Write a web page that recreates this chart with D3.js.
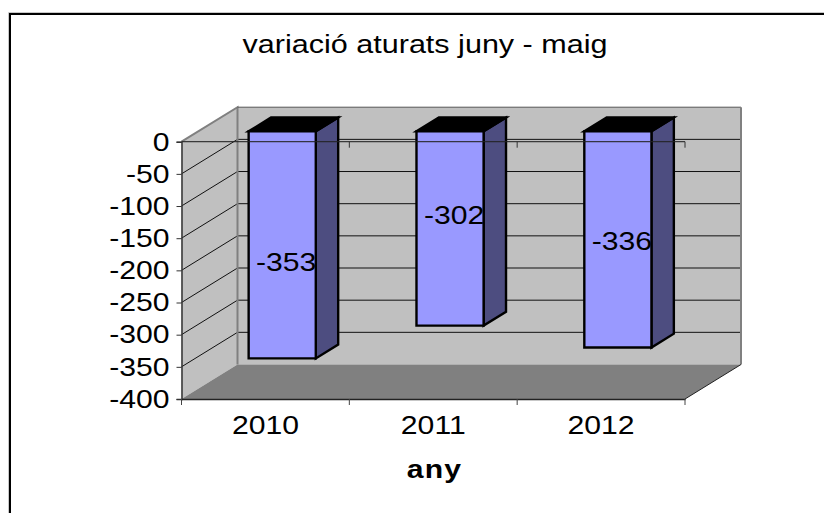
<!DOCTYPE html>
<html>
<head>
<meta charset="utf-8">
<script src="https://cdn.jsdelivr.net/npm/d3@7"></script>
<style>
  html, body { margin: 0; padding: 0; background: #fff; }
  svg { display: block; }
  text { font-family: "Liberation Sans", Arial, sans-serif; fill: #000; }
</style>
</head>
<body>
<div id="chart"></div>
<script>
const years = ["2010", "2011", "2012"];
const values = [-353, -302, -336];
const yTicks = [0, -50, -100, -150, -200, -250, -300, -350, -400];
const gridTicks = [-50, -100, -150, -200, -250, -300, -350];
const chartTitle = "variació aturats juny - maig";
const xTitle = "any";

const w = 824, h = 513;
const svg = d3.select("#chart").append("svg").attr("width", w).attr("height", h);

// the text in the picture is stretched sideways
const fontSize = "26px", stretch = 1.16;

// scales for the front plane of the box
const y = d3.scaleLinear().domain([-400, 0]).range([399, 141.7]);
const x = d3.scaleBand().domain(years).range([181.5, 685]);
const xBar = d3.scaleBand().domain(years).range([181.5, 685]).paddingInner(0.6).paddingOuter(0.3);

// how far the box goes back: d=0 front, d=1 back wall
const depthX = 56, depthY = -34.5;
function px(v, d) { return v + depthX * d; }
function py(v, d) { return v + depthY * d; }
function poly(points) { return points.map(p => p.join(",")).join(" "); }

// outer frame, only top and left sides show
svg.append("path").attr("d", "M8.5,513V12.5H824").attr("fill", "none").attr("stroke", "#c8c8c8").attr("stroke-width", 1);
svg.append("path").attr("d", "M10,513V14H824").attr("fill", "none").attr("stroke", "#000").attr("stroke-width", 2);

const x0 = x.range()[0], x1 = x.range()[1], yTop = y(0), yBot = y(-400);

// side wall, back wall, floor
svg.append("polygon")
  .attr("points", poly([[x0, yTop], [px(x0, 1), py(yTop, 1)], [px(x0, 1), py(yBot, 1)], [x0, yBot]]))
  .attr("fill", "#c0c0c0");
svg.append("polygon")
  .attr("points", poly([[px(x0, 1), py(yTop, 1)], [px(x1, 1), py(yTop, 1)], [px(x1, 1), py(yBot, 1)], [px(x0, 1), py(yBot, 1)]]))
  .attr("fill", "#c0c0c0");
svg.append("polygon")
  .attr("points", poly([[x0, yBot], [px(x0, 1), py(yBot, 1)], [px(x1, 1), py(yBot, 1)], [x1, yBot]]))
  .attr("fill", "#808080");

// gridlines
svg.append("g").selectAll("path").data(gridTicks).enter().append("path")
  .attr("d", d => "M" + x0 + "," + y(d) + "L" + px(x0, 1) + "," + py(y(d), 1) + "H" + px(x1, 1))
  .attr("fill", "none").attr("stroke", "#111").attr("stroke-width", 1);

// wall edges
svg.append("path")
  .attr("d", "M" + x0 + "," + yTop + "L" + px(x0, 1) + "," + py(yTop, 1) + "V" + py(yBot, 1))
  .attr("fill", "none").attr("stroke", "#808080").attr("stroke-width", 2);
svg.append("path")
  .attr("d", "M" + px(x0, 1) + "," + py(yTop, 1) + "H" + px(x1, 1))
  .attr("fill", "none").attr("stroke", "#555").attr("stroke-width", 1);
svg.append("path")
  .attr("d", "M" + px(x1, 1) + "," + py(yTop, 1) + "V" + py(yBot, 1))
  .attr("fill", "none").attr("stroke", "#808080").attr("stroke-width", 2);
svg.append("path")
  .attr("d", "M" + x1 + "," + yBot + "L" + px(x1, 1) + "," + py(yBot, 1))
  .attr("fill", "none").attr("stroke", "#222").attr("stroke-width", 1);

// bars, between 30% and 70% of the depth
const dA = 0.3, dB = 0.7;
const bars = svg.append("g").selectAll("g").data(values).enter().append("g")
  .attr("stroke", "#000").attr("stroke-width", 2.4).attr("stroke-linejoin", "miter");
function barLeft(i) { return xBar(years[i]); }
function barRight(i) { return xBar(years[i]) + xBar.bandwidth(); }
bars.append("polygon") // side
  .attr("fill", "#4d4d80")
  .attr("points", (d, i) => poly([
    [px(barRight(i), dA), py(yTop, dA)], [px(barRight(i), dB), py(yTop, dB)],
    [px(barRight(i), dB), py(y(d), dB)], [px(barRight(i), dA), py(y(d), dA)]]));
bars.append("polygon") // top
  .attr("fill", "#000")
  .attr("points", (d, i) => poly([
    [px(barLeft(i), dA), py(yTop, dA)], [px(barLeft(i), dB), py(yTop, dB)],
    [px(barRight(i), dB), py(yTop, dB)], [px(barRight(i), dA), py(yTop, dA)]]));
bars.append("polygon") // front
  .attr("fill", "#9999ff")
  .attr("points", (d, i) => poly([
    [px(barLeft(i), dA), py(yTop, dA)], [px(barRight(i), dA), py(yTop, dA)],
    [px(barRight(i), dA), py(y(d), dA)], [px(barLeft(i), dA), py(y(d), dA)]]));

// zero line goes over the bars
svg.append("path")
  .attr("d", "M" + x0 + "," + yTop + "H" + x1)
  .attr("fill", "none").attr("stroke", "#222").attr("stroke-width", 1.2).attr("stroke-opacity", 0.85);
svg.append("g").selectAll("line").data(years.map(d => x(d) + x.bandwidth())).enter().append("line")
  .attr("x1", d => d).attr("x2", d => d).attr("y1", yTop).attr("y2", yTop + 6)
  .attr("stroke", "#333");

// y axis
const yAxis = svg.append("g").attr("transform", "translate(" + x0 + ",0)")
  .call(d3.axisLeft(y).tickValues(yTicks).tickSize(5).tickPadding(7).tickFormat(d => String(d)));
yAxis.selectAll("text").style("font-size", fontSize)
  .attr("x", -12 / stretch).attr("transform", "scale(" + stretch + ",1)");
yAxis.selectAll("line").attr("stroke", "#333");
yAxis.select(".domain").attr("stroke", "#333").attr("stroke-width", 1.5);

// x axis at the bottom, ticks between the categories
const xAxis = svg.append("g").attr("transform", "translate(0," + yBot + ")")
  .call(d3.axisBottom(x).tickSize(0));
xAxis.selectAll("text").style("font-size", fontSize)
  .attr("y", 35).attr("dy", null).attr("transform", "scale(" + stretch + ",1)");
xAxis.select(".domain").attr("stroke", "#222").attr("stroke-width", 1.5);
svg.append("g").selectAll("line").data([x0].concat(years.map(d => x(d) + x.bandwidth()))).enter().append("line")
  .attr("x1", d => d).attr("x2", d => d).attr("y1", yBot).attr("y2", yBot + 6)
  .attr("stroke", "#444");

// value labels, the heights are as the picture has them, not centred in the bar
const labelLevels = [-187, -114, -154];
svg.append("g").selectAll("text").data(values).enter().append("text")
  .attr("transform", (d, i) => "translate(" + (px(barLeft(i), dA) + xBar.bandwidth() / 2 + 4) + "," + (y(labelLevels[i]) + 9) + ") scale(" + stretch + ",1)")
  .attr("text-anchor", "middle")
  .style("font-size", fontSize)
  .text(d => d);

// titles
svg.append("text").attr("transform", "translate(425,52.5) scale(1.175,1)").attr("text-anchor", "middle")
  .style("font-size", fontSize).text(chartTitle);
svg.append("text").attr("transform", "translate(434.5,478) scale(" + stretch + ",1)").attr("text-anchor", "middle")
  .style("font-size", fontSize).style("font-weight", "bold").style("letter-spacing", "1px").text(xTitle);
</script>
</body>
</html>
